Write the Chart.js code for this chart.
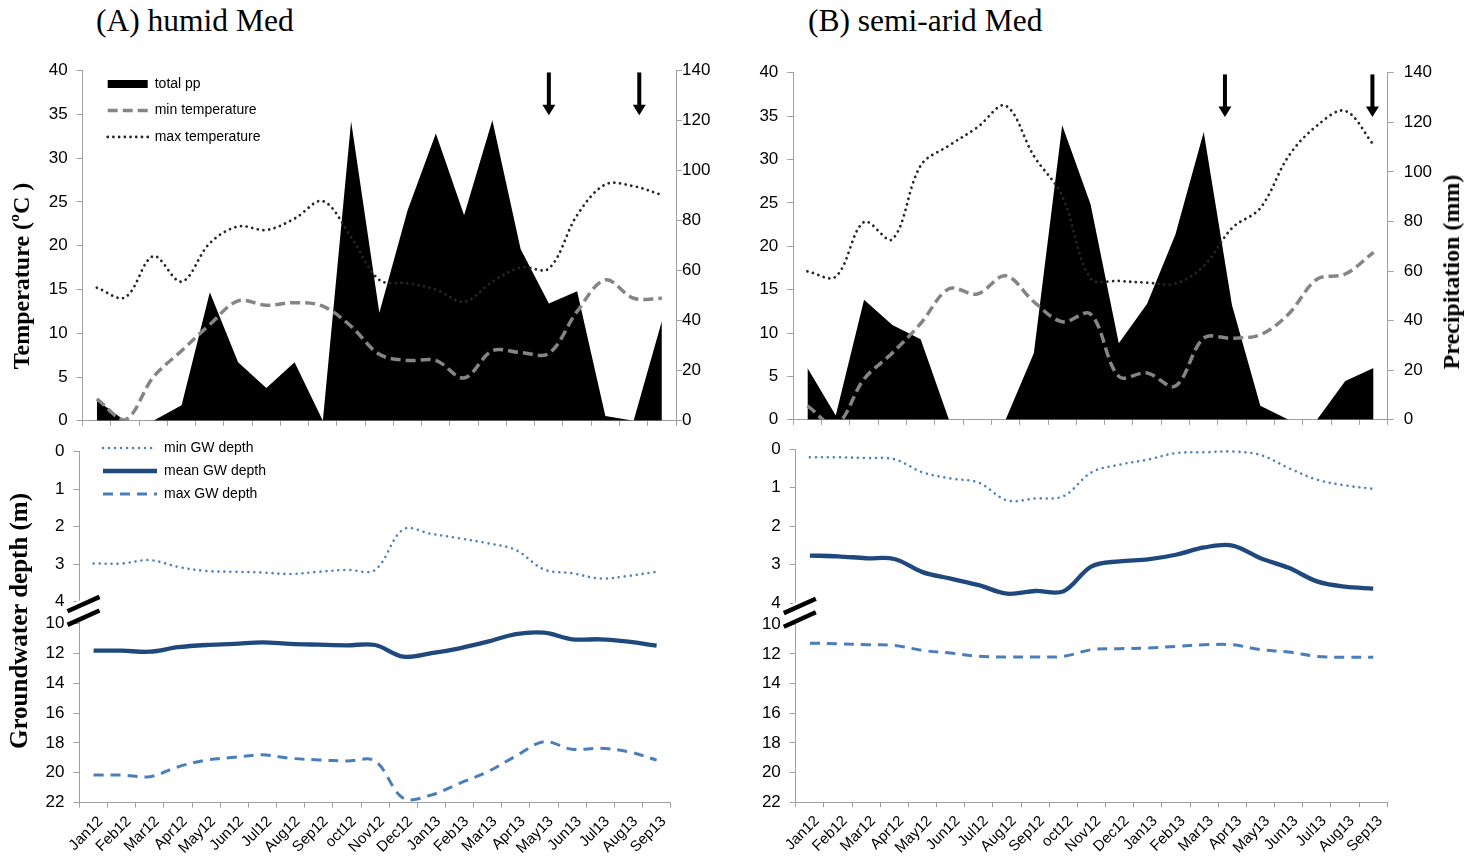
<!DOCTYPE html>
<html>
<head>
<meta charset="utf-8">
<script src="https://cdn.jsdelivr.net/npm/chart.js@4.4.1/dist/chart.umd.min.js"></script>
<style>
  html, body { margin: 0; padding: 0; background: #fff; }
  body { width: 1476px; height: 863px; position: relative; overflow: hidden; }
  canvas { position: absolute; }
  .title { position: absolute; font-family: "Liberation Serif", "Times New Roman", serif; font-size: 31.5px; line-height: 30px; color: #000; white-space: nowrap; }
  .ytitle { position: absolute; font-family: "Liberation Serif", "Times New Roman", serif; font-weight: bold; font-size: 24px; line-height: 24px; color: #000; white-space: nowrap; transform: translate(-50%, -50%) rotate(-90deg); }
</style>
</head>
<body>
<canvas id="tl" width="740" height="390" style="left:0;top:50px"></canvas>
<canvas id="tr" width="736" height="390" style="left:740px;top:50px"></canvas>
<canvas id="bl" width="740" height="433" style="left:0;top:430px"></canvas>
<canvas id="br" width="736" height="433" style="left:740px;top:430px"></canvas>
<div class="title" style="left:96px;top:6px">(A) humid Med</div>
<div class="title" style="left:808px;top:6px">(B) semi-arid Med</div>
<div class="ytitle" style="left:21px;top:276px">Temperature (ºC )</div>
<div class="ytitle" style="left:19px;top:621px;font-size:25px">Groundwater depth (m)</div>
<div class="ytitle" style="left:1451px;top:272px">Precipitation (mm)</div>
<script>
// Months of the monitoring period
const months = ['Jan12','Feb12','Mar12','Apr12','May12','Jun12','Jul12','Aug12','Sep12','oct12','Nov12','Dec12',
                'Jan13','Feb13','Mar13','Apr13','May13','Jun13','Jul13','Aug13','Sep13'];

// (A) humid Med site
const humidPrecip  = [8.2, 0, 0, 6.2, 51.4, 23.4, 13.1, 23.4, 0, 119.8, 43.2, 84.2, 114.9, 82.2, 120.2, 68.7, 46.9, 51.8, 1.9, 0, 39.9];
const humidMinTemp = [2.5, 0.1, 5.0, 8.0, 11.0, 13.7, 13.2, 13.5, 13.1, 10.8, 7.6, 6.9, 6.9, 4.9, 8.0, 7.8, 7.7, 12.5, 16.1, 14.0, 14.0];
const humidMaxTemp = [15.2, 14.1, 18.8, 15.9, 20.3, 22.2, 21.8, 23.1, 25.1, 21.0, 16.1, 15.7, 15.0, 13.6, 15.9, 17.5, 17.4, 23.5, 27.0, 26.8, 25.8];
const humidMinGW   = [2.98, 2.98, 2.89, 3.07, 3.18, 3.2, 3.22, 3.26, 3.2, 3.15, 3.15, 2.07, 2.19, 2.31, 2.44, 2.62, 3.14, 3.24, 3.38, 3.31, 3.2];
const humidMeanGW  = [11.83, 11.83, 11.9, 11.6, 11.45, 11.38, 11.27, 11.38, 11.43, 11.47, 11.45, 12.23, 12.0, 11.67, 11.23, 10.72, 10.63, 11.07, 11.07, 11.23, 11.5];
const humidMaxGW   = [20.15, 20.15, 20.26, 19.6, 19.15, 18.96, 18.8, 19.03, 19.14, 19.21, 19.21, 21.7, 21.48, 20.7, 19.93, 18.88, 17.92, 18.43, 18.36, 18.59, 19.15];
const humidArrows  = [16, 19.2];

// (B) semi-arid Med site
const semiPrecip   = [20.9, 1.7, 48.4, 38.2, 32.5, 0, 0, 0, 26.9, 118.8, 87.0, 30.9, 46.8, 74.7, 116.1, 46.2, 5.7, 0, 0, 15.6, 20.9];
const semiMinTemp  = [1.6, -0.6, 4.7, 7.7, 11.1, 15.1, 14.5, 16.6, 13.6, 11.3, 12.2, 5.0, 5.4, 3.9, 9.4, 9.4, 9.8, 12.2, 16.2, 16.8, 19.3];
const semiMaxTemp  = [17.1, 16.5, 22.8, 20.8, 29.3, 31.6, 33.7, 36.2, 30.4, 25.8, 16.3, 16.0, 15.8, 15.7, 17.7, 22.1, 24.4, 30.4, 33.9, 35.6, 31.7];
const semiMinGW    = [0.21, 0.21, 0.23, 0.26, 0.6, 0.76, 0.87, 1.33, 1.28, 1.22, 0.6, 0.4, 0.27, 0.1, 0.08, 0.06, 0.15, 0.49, 0.79, 0.94, 1.03];
const semiMeanGW   = [2.76, 2.78, 2.83, 2.85, 3.19, 3.36, 3.53, 3.75, 3.68, 3.69, 3.04, 2.91, 2.86, 2.74, 2.55, 2.5, 2.83, 3.08, 3.43, 3.57, 3.62];
const semiMaxGW    = [11.27, 11.31, 11.38, 11.42, 11.76, 11.94, 12.16, 12.2, 12.2, 12.16, 11.71, 11.64, 11.6, 11.49, 11.38, 11.38, 11.71, 11.87, 12.16, 12.22, 12.22];
const semiArrows   = [14.75, 19.96];

// Axis tick values
const tempTicks    = [0, 5, 10, 15, 20, 25, 30, 35, 40];
const precipTicks  = [0, 20, 40, 60, 80, 100, 120, 140];
const gwUpperTicks = [0, 1, 2, 3, 4];
const gwLowerTicks = [10, 12, 14, 16, 18, 20, 22];

Chart.defaults.font.family = '"Liberation Sans", Arial, sans-serif';
Chart.defaults.color = '#000';

const AXIS = '#a0a0a0';
const setTicks = vals => s => { s.ticks = vals.map(v => ({ value: v })); };
const fixWidth = w => s => { s.width = w; };
const fixHeight = h => s => { s.height = h; };
const axisGrid = len => ({ drawOnChartArea: false, color: AXIS, tickColor: AXIS, tickLength: len });

// Legend entries keep the dataset's own line dash, width and cap, in dataset order
function legendLabels(chart) {
  const items = Chart.defaults.plugins.legend.labels.generateLabels(chart);
  items.forEach(it => {
    const ds = chart.data.datasets[it.datasetIndex];
    it.lineDash = ds.borderDash || [];
    it.lineWidth = ds.borderWidth;
    it.lineCap = ds.borderCapStyle || 'butt';
    it.strokeStyle = ds.borderColor;
    it.fillStyle = ds.backgroundColor;
  });
  return items.sort((a, b) => a.datasetIndex - b.datasetIndex);
}

// Moves the in-plot legend to a fixed spot inside the canvas
const legendPlace = {
  id: 'legendPlace',
  afterLayout(chart, args, opts) {
    const lg = chart.legend;
    if (!lg || opts.left == null) return;
    const w = lg.width, h = lg.height;
    lg.left = opts.left; lg.top = opts.top;
    lg.right = lg.left + w; lg.bottom = lg.top + h;
  }
};

// Down arrows marking selected months on the temperature panels
const arrowMarks = {
  id: 'arrowMarks',
  afterDatasetsDraw(chart, args, opts) {
    const xs = chart.scales.x, ys = chart.scales.y, ctx = chart.ctx;
    (opts.at || []).forEach(v => {
      const x = xs.getPixelForValue(v);
      const y0 = ys.getPixelForValue(39.8), y1 = ys.getPixelForValue(36.1), y2 = ys.getPixelForValue(34.9);
      ctx.save();
      ctx.fillStyle = '#000';
      ctx.fillRect(x - 2, y0, 4, y1 - y0 + 1);
      ctx.beginPath();
      ctx.moveTo(x - 6.5, y1); ctx.lineTo(x + 6.5, y1); ctx.lineTo(x, y2);
      ctx.closePath(); ctx.fill();
      ctx.restore();
    });
  }
};

// Broken-axis marker between the two stacked depth scales
const axisBreak = {
  id: 'axisBreak',
  afterDraw(chart) {
    const up = chart.scales.yUp, ctx = chart.ctx;
    if (!up) return;
    const x = up.right, c = up.bottom - 1;
    ctx.save();
    ctx.fillStyle = '#fff';
    ctx.fillRect(x - 3, c - 10, 6, 20);
    ctx.strokeStyle = '#000';
    ctx.lineWidth = 4.5;
    for (const dy of [-6.8, 6.8]) {
      ctx.beginPath();
      ctx.moveTo(x - 12, c + dy + 7.2);
      ctx.lineTo(x + 20, c + dy - 7.2);
      ctx.stroke();
    }
    ctx.restore();
  }
};

function topPanel(id, g, precip, minT, maxT, arrows, withLegend) {
  new Chart(document.getElementById(id), {
    type: 'line',
    data: {
      labels: months,
      datasets: [
        { label: 'total pp', data: precip, yAxisID: 'yP', fill: 'origin', backgroundColor: '#000', borderColor: '#000',
          borderWidth: 0, pointRadius: 0, pointStyle: 'rect', tension: 0, order: 2 },
        { label: 'min temperature', data: minT, yAxisID: 'y', fill: false, borderColor: '#858585', backgroundColor: '#858585',
          borderWidth: 3.5, borderDash: [10, 5], pointRadius: 0, pointStyle: 'line', tension: 0.35, order: 1 },
        { label: 'max temperature', data: maxT, yAxisID: 'y', fill: false, borderColor: '#262626', backgroundColor: '#262626',
          borderWidth: 2.8, borderDash: [0.01, 5.7], borderCapStyle: 'round', pointRadius: 0, pointStyle: 'line', tension: 0.35, order: 0 }
      ]
    },
    options: {
      responsive: false, animation: false, devicePixelRatio: 1, events: [],
      layout: { padding: { top: g.top, left: 0, right: 0, bottom: 0 } },
      scales: {
        x: { offset: true, grid: Object.assign(axisGrid(5), { offset: true }), border: { color: AXIS },
             ticks: { display: false }, afterFit: fixHeight(g.xh) },
        y: { position: 'left', min: 0, max: 40, afterBuildTicks: setTicks(tempTicks), grid: axisGrid(6), border: { color: AXIS },
             ticks: { autoSkip: false, font: { size: 17 }, padding: 9 }, afterFit: fixWidth(g.left) },
        yP: { position: 'right', min: 0, max: 140, afterBuildTicks: setTicks(precipTicks), grid: axisGrid(6), border: { color: AXIS },
              ticks: { autoSkip: false, font: { size: 17 }, padding: g.rpad }, afterFit: fixWidth(g.right) }
      },
      plugins: {
        tooltip: { enabled: false },
        legend: {
          display: withLegend, position: 'chartArea', align: 'start',
          labels: { usePointStyle: true, pointStyleWidth: 40, boxHeight: 8, padding: 12.5, font: { size: 14 }, color: '#000',
                    generateLabels: legendLabels }
        },
        legendPlace: withLegend ? { left: g.lgLeft, top: g.lgTop } : {},
        arrowMarks: { at: arrows }
      }
    },
    plugins: [legendPlace, arrowMarks]
  });
}

function bottomPanel(id, g, minGW, meanGW, maxGW, meanAxis, withLegend) {
  new Chart(document.getElementById(id), {
    type: 'line',
    data: {
      labels: months,
      datasets: [
        { label: 'min GW depth', data: minGW, yAxisID: 'yUp', borderColor: '#4f81bd', backgroundColor: '#4f81bd',
          borderWidth: 2.6, borderDash: [0.01, 6], borderCapStyle: 'round', pointRadius: 0, pointStyle: 'line', tension: 0.35 },
        { label: 'mean GW depth', data: meanGW, yAxisID: meanAxis, borderColor: '#1f497d', backgroundColor: '#1f497d',
          borderWidth: 4.3, pointRadius: 0, pointStyle: 'line', tension: 0.35 },
        { label: 'max GW depth', data: maxGW, yAxisID: 'yLow', borderColor: '#4a7ebb', backgroundColor: '#4a7ebb',
          borderWidth: 3, borderDash: [10, 7], pointRadius: 0, pointStyle: 'line', tension: 0.35 }
      ]
    },
    options: {
      responsive: false, animation: false, devicePixelRatio: 1, events: [],
      layout: { padding: { top: g.top, left: 0, right: g.rpadLayout, bottom: 0 } },
      scales: {
        x: { offset: true, grid: Object.assign(axisGrid(5), { offset: true }), border: { color: AXIS },
             ticks: { autoSkip: false, minRotation: 45, maxRotation: 45, font: { size: 15 }, padding: 5, labelOffset: 7 },
             afterFit: fixHeight(g.xh) },
        yLow: { position: 'left', stack: 'gw', stackWeight: g.wLow, reverse: true, min: g.lowMin, max: 22,
                afterBuildTicks: setTicks(gwLowerTicks), grid: axisGrid(6), border: { color: AXIS },
                ticks: { autoSkip: false, font: { size: 17 }, padding: 9 }, afterFit: fixWidth(g.left) },
        yUp: { position: 'left', stack: 'gw', stackWeight: g.wUp, reverse: true, min: 0, max: g.upMax,
               afterBuildTicks: setTicks(gwUpperTicks), grid: axisGrid(6), border: { color: AXIS },
               ticks: { autoSkip: false, font: { size: 17 }, padding: 9 }, afterFit: fixWidth(g.left) }
      },
      plugins: {
        tooltip: { enabled: false },
        legend: {
          display: withLegend, position: 'chartArea', align: 'start',
          labels: { usePointStyle: true, pointStyleWidth: 54, boxHeight: 8, padding: 9, font: { size: 14 }, color: '#000',
                    generateLabels: legendLabels }
        },
        legendPlace: withLegend ? { left: g.lgLeft, top: g.lgTop } : {}
      }
    },
    plugins: [legendPlace, axisBreak]
  });
}

topPanel('tl', { top: 20.7, xh: 16, left: 82.7, right: 64, rpad: 0, lgLeft: 95.2, lgTop: 14.5 },
         humidPrecip, humidMinTemp, humidMaxTemp, humidArrows, true);
topPanel('tr', { top: 22.7, xh: 15.7, left: 53.3, right: 88.3, rpad: 10 },
         semiPrecip, semiMinTemp, semiMaxTemp, semiArrows, false);
bottomPanel('bl', { top: 21.7, xh: 60.3, left: 79.5, rpadLayout: 69.3, wUp: 160.2, wLow: 190.8, upMax: 4.27, lowMin: 9.237,
                    lgLeft: 94, lgTop: 2 },
            humidMinGW, humidMeanGW, humidMaxGW, 'yLow', true);
bottomPanel('br', { top: 16, xh: 60.7, left: 55.8, rpadLayout: 88.7, wUp: 166, wLow: 190.3, upMax: 4.27, lowMin: 9.285 },
            semiMinGW, semiMeanGW, semiMaxGW, 'yUp', false);
</script>
</body>
</html>
